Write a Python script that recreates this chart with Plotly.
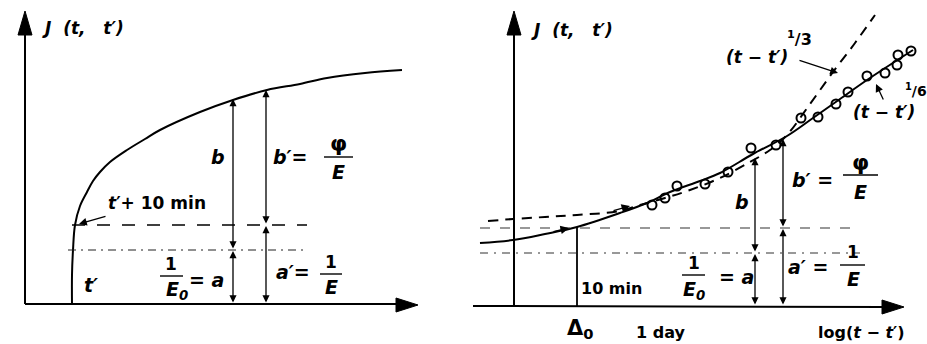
import plotly.graph_objects as go

# coordonnees (pixels, y vers le bas)

# panneau gauche : courbe de fluage J(t, t')
left_x = [72, 72, 73, 75, 80, 87, 93, 100, 110, 127, 145, 160, 200, 233, 267, 300, 327, 365, 402]
left_y = [304, 275, 250, 225, 206, 192, 181, 172, 162, 150, 139, 130, 112, 100, 90, 84, 78, 73, 70]

# panneau droit : loi (t-t')^1/8 (trait plein)
sol_x = [480, 513, 545, 577, 620, 647, 670, 700, 720, 753, 787, 813, 840, 867, 913]
sol_y = [243, 240, 234, 227, 213, 203, 192, 181, 173, 154, 136, 118, 99, 80, 50]

# loi (t-t')^1/3 (tirets)
dash_x = [488, 513, 545, 577, 620, 640, 665, 690, 720, 750, 770, 787, 810, 833, 855, 875]
dash_y = [221, 219, 217, 215, 211, 205, 198, 190, 178, 162, 150, 135, 104, 72, 43, 15]

# mesures
pts_x = [652, 665, 677, 705, 728, 751, 776, 801, 818, 836, 848, 867, 885, 897, 898, 911]
pts_y = [205, 198, 186, 184, 172, 148, 145, 118, 117, 104, 92, 76, 73, 65, 55, 51]

FONT = "DejaVu Sans"
fig = go.Figure()

fig.add_trace(go.Scatter(x=left_x, y=left_y, mode="lines", line=dict(color="black", width=2, shape="spline")))
fig.add_trace(go.Scatter(x=sol_x, y=sol_y, mode="lines", line=dict(color="black", width=2, shape="spline")))
fig.add_trace(go.Scatter(x=dash_x, y=dash_y, mode="lines",
                         line=dict(color="black", width=2, dash="10px,7px", shape="spline")))
fig.add_trace(go.Scatter(x=pts_x, y=pts_y, mode="markers",
                         marker=dict(symbol="circle-open", size=9, color="black", line=dict(width=2, color="black"))))

shapes = []

def line(x0, y0, x1, y1, w=2, dash=None, color="black"):
    shapes.append(dict(type="line", x0=x0, y0=y0, x1=x1, y1=y1, xref="x", yref="y",
                       line=dict(color=color, width=w, dash=dash)))

def tri(path):
    shapes.append(dict(type="path", path=path, xref="x", yref="y",
                       fillcolor="black", line=dict(color="black", width=1)))

# axes
line(25, 304, 25, 32)
line(25, 304, 398, 304)
tri("M 25 11 L 18 35 L 32 35 Z")
tri("M 418 305 L 396 298 L 396 312 Z")
line(514, 306, 514, 32)
line(473, 306, 884, 307)
tri("M 514 11 L 507 35 L 521 35 Z")
tri("M 904 307 L 882 300 L 882 314 Z")

# lignes de rappel
line(72, 225, 307, 225, 1.3, "13px,12px")
line(68, 250, 303, 250, 1.1, "8px,5px,2px,5px", "#222")
line(480, 228, 853, 228, 1.1, "10px,10px", "#333")
line(480, 253, 860, 253, 1.1, "8px,6px,2px,6px", "#333")
line(577, 227, 577, 306, 1.8)

# traits de fraction
for x0, x1, y in [(324, 353, 157), (160, 183, 276), (320, 342, 274),
                  (843, 878, 175), (682, 705, 275), (840, 865, 265)]:
    line(x0, y, x1, y, 1.4)

ann = []

def arrow(x0, y0, x1, y1, both=True, w=1.3, size=1.1):
    ann.append(dict(x=x1, y=y1, ax=x0, ay=y0, xref="x", yref="y", axref="x", ayref="y",
                    text="", showarrow=True, arrowhead=2, arrowsize=size, arrowwidth=w,
                    arrowside="end+start" if both else "end", arrowcolor="black",
                    standoff=0, startstandoff=0))

# cotes a, b, a', b'
arrow(233, 250, 233, 99)
arrow(233, 304, 233, 251)
arrow(266, 225, 266, 90)
arrow(266, 304, 266, 226)
arrow(755, 253, 755, 158)
arrow(755, 306, 755, 254)
arrow(783, 228, 783, 139)
arrow(783, 306, 783, 229)

# fleches d'indication
arrow(107, 216, 79, 224, both=False, w=1.3, size=1.2)
arrow(798, 60, 838, 73, both=False, w=1.3, size=1.2)
arrow(884, 101, 876, 84, both=False, w=1.3, size=1.2)
arrow(552, 232, 569, 228, both=False, w=1.3, size=1.3)
arrow(612, 211, 630, 206, both=False, w=1.3, size=1.3)

def txt(s, x, y, size=19, italic=True, bold=True):
    ann.append(dict(x=x, y=y, xref="x", yref="y", text=s, showarrow=False,
                    xanchor="center", yanchor="middle",
                    font=dict(family=FONT, size=size, color="black",
                              style="italic" if italic else "normal",
                              weight="bold" if bold else "normal")))

# textes panneau gauche
txt("J  (t,   t′)", 83, 28, 17)
txt("b", 218, 157)
txt("b′=", 290, 157)
txt("φ", 338, 143, 22, False)
txt("E", 338, 172)
txt("<i>t</i>′+ 10 min", 157, 203, 17, False)
txt("t′", 91, 285)
txt("1", 171, 264, 17, False)
txt("E<sub>0</sub>", 177, 290)
txt("= a", 206, 280)
txt("a′=", 293, 272)
txt("1", 331, 262, 17, False)
txt("E", 331, 287)

# textes panneau droit
txt("J  (t,   t′)", 572, 30, 17)
txt("(t − t′)", 757, 57, 17)
txt("<sup>1</sup>/3", 799, 38, 16, False)
txt("(t − t′)", 884, 112, 17)
txt("<sup>1</sup>/6", 916, 90, 14, False)
txt("b", 742, 202)
txt("b′ =", 812, 180)
txt("φ", 860, 162, 22, False)
txt("E", 860, 192)
txt("1", 694, 263, 17, False)
txt("E<sub>0</sub>", 694, 290)
txt("= a", 736, 277)
txt("a′ =", 808, 267)
txt("1", 853, 252, 17, False)
txt("E", 853, 279)
txt("10 min", 611, 288, 16, False)
txt("Δ<sub>0</sub>", 580, 329, 21, False)
txt("1 day", 660, 332, 16, False)
txt("log(<i>t</i> − <i>t</i>′)", 861, 332, 16, False)

fig.update_layout(
    width=927, height=344, autosize=False,
    margin=dict(l=0, r=0, t=0, b=0),
    paper_bgcolor="white", plot_bgcolor="white",
    showlegend=False, hovermode=False,
    shapes=shapes, annotations=ann,
    xaxis=dict(range=[0, 927], visible=False, fixedrange=True),
    yaxis=dict(range=[344, 0], visible=False, fixedrange=True),
)

fig.write_html("out.html", config={"displayModeBar": False},
               post_script="document.body.style.margin='0';document.body.style.overflow='hidden';")
